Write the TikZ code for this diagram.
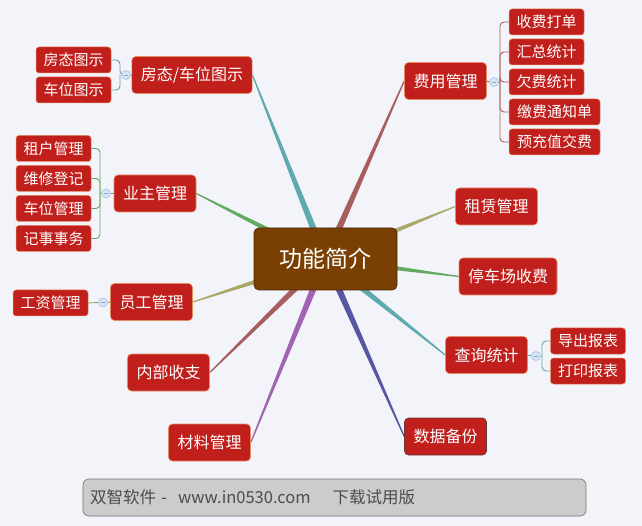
\documentclass[tikz,border=0pt]{standalone}
\usepackage{fontspec}
\setmainfont{Noto Sans CJK SC}
\usetikzlibrary{calc,backgrounds}
\definecolor{bgc}{HTML}{F3F4F9}
\definecolor{topred}{HTML}{C01F1C}
\definecolor{topedge}{HTML}{E58A62}
\definecolor{rootfill}{HTML}{7A3F02}
\definecolor{rootedge}{HTML}{4E2500}
\definecolor{lteal}{HTML}{5EAAAE}
\definecolor{lgreen}{HTML}{64A864}
\definecolor{lolive}{HTML}{ABA96A}
\definecolor{lrose}{HTML}{A85E5E}
\definecolor{lpurple}{HTML}{A264B2}
\definecolor{lindigo}{HTML}{5656A2}
\definecolor{togfill}{HTML}{D6E4F6}
\definecolor{togedge}{HTML}{9DBBE4}
% tapered branch from the root to a topic
\newcommand{\branch}[3]{%
  \fill[#3] ($(#1)!3.6pt!90:(#2)$) -- ($(#2)!0.6pt!-90:(#1)$) -- ($(#2)!0.6pt!90:(#1)$) -- ($(#1)!3.6pt!-90:(#2)$) -- cycle;}

\begin{document}
\begin{tikzpicture}[x=1pt, y=-1pt,
  root/.style={draw=rootedge, fill=rootfill, text=white, rounded corners=5pt, font=\fontsize{23}{26}\selectfont, minimum width=143pt, minimum height=62pt, line width=0.8pt},
  topic/.style={draw=topedge, fill=topred, text=white, rounded corners=4pt, font=\fontsize{16}{19}\selectfont, inner xsep=9pt, minimum height=37pt, line width=0.6pt},
  sub/.style={draw=topedge, fill=topred, text=white, rounded corners=3pt, font=\fontsize{15}{18}\selectfont, inner xsep=4pt, inner ysep=0pt, minimum height=26pt, minimum width=75pt, line width=0.5pt},
  toggle/.style={circle, draw=togedge, fill=togfill, minimum size=9pt, inner sep=0pt, line width=0.5pt,
    path picture={\draw[togedge!70!gray, line width=0.6pt] ([xshift=-2.2pt]path picture bounding box.center) -- ([xshift=2.2pt]path picture bounding box.center);}},
  twig/.style={line width=0.9pt, rounded corners=4pt}]
\useasboundingbox (0,0) rectangle (642,526);

% root
\node[root] (root) at (325.5,259) {功能简介};

% left topics
\node[topic] (fang) at (192,75) {房态/车位图示};
\node[topic] (yezhu) at (155,193.5) {业主管理};
\node[topic] (yuangong) at (151.5,302) {员工管理};
\node[topic] (neibu) at (168.5,372.5) {内部收支};
\node[topic] (cailiao) at (209.5,442.5) {材料管理};
% right topics
\node[topic] (feiyong) at (445.5,81) {费用管理};
\node[topic] (zulin) at (496.5,206.5) {租赁管理};
\node[topic] (tingche) at (508,276.5) {停车场收费};
\node[topic] (chaxun) at (486.5,355) {查询统计};
\node[topic, draw=lrose!60!black] (shuju) at (445.5,436.5) {数据备份};

% subtopics
\node[sub] (fangtai) at (73.5,60) {房态图示};
\node[sub] (chewei) at (73.5,90) {车位图示};
\node[sub] (zuhu) at (53.5,148.5) {租户管理};
\node[sub] (weixiu) at (53.5,178.5) {维修登记};
\node[sub] (cwgl) at (53.5,208.5) {车位管理};
\node[sub] (jishi) at (53.5,238.5) {记事事务};
\node[sub] (gongzi) at (50.5,303) {工资管理};
\node[sub] (shoufei) at (546.5,22) {收费打单};
\node[sub] (huizong) at (546.5,52) {汇总统计};
\node[sub] (qianfei) at (546.5,82) {欠费统计};
\node[sub, minimum width=91pt] (jiaofei) at (554.5,112) {缴费通知单};
\node[sub, minimum width=91pt] (yuchong) at (554.5,142) {预充值交费};
\node[sub] (daochu) at (588,341) {导出报表};
\node[sub] (dayin) at (588,371) {打印报表};

% toggles
\node[toggle] (tfang) at (126,75) {};
\node[toggle] (tyezhu) at (106,193.5) {};
\node[toggle] (tyuangong) at (103,302.5) {};
\node[toggle] (tfeiyong) at (494,82) {};
\node[toggle] (tchaxun) at (536,356) {};

\begin{scope}[on background layer]
  \fill[bgc] (0,0) rectangle (642,526);
  \branch{root.center}{fang.east}{lteal}
  \branch{root.center}{yezhu.east}{lgreen}
  \branch{root.center}{yuangong.east}{lolive}
  \branch{root.center}{neibu.east}{lrose}
  \branch{root.center}{cailiao.east}{lpurple}
  \branch{root.center}{shuju.west}{lindigo}
  \branch{root.center}{chaxun.west}{lteal}
  \branch{root.center}{tingche.west}{lgreen}
  \branch{root.center}{zulin.west}{lolive}
  \branch{root.center}{feiyong.west}{lrose}

  % subtopic twigs
  \draw[twig, lteal!80!gray] (fang.west) -- (tfang.east);
  \draw[twig, lteal!80!gray] (tfang.west) -- (120,75) |- (fangtai.east);
  \draw[twig, lteal!80!gray] (120,75) |- (chewei.east);
  \draw[twig, lgreen] (yezhu.west) -- (tyezhu.east);
  \draw[twig, lgreen] (tyezhu.west) -- (100,193.5);
  \foreach \s in {zuhu,weixiu,cwgl,jishi}
    \draw[twig, lgreen] (100,193.5) |- (\s.east);
  \draw[twig, lolive!70!lgreen] (yuangong.west) -- (tyuangong.east);
  \draw[twig, lolive!70!lgreen] (tyuangong.west) -- (gongzi.east);
  \draw[twig, lrose] (feiyong.east) -- (tfeiyong.west);
  \draw[twig, lrose] (tfeiyong.east) -- (500,82);
  \foreach \s in {shoufei,huizong,qianfei,jiaofei,yuchong}
    \draw[twig, lrose] (500,82) |- (\s.west);
  \draw[twig, lteal] (chaxun.east) -- (tchaxun.west);
  \draw[twig, lteal] (tchaxun.east) -- (542,356);
  \foreach \s in {daochu,dayin}
    \draw[twig, lteal] (542,356) |- (\s.west);
\end{scope}

% footer
\node[draw=gray!90!black, fill=gray!40, rounded corners=6pt, line width=0.6pt, minimum width=503pt, minimum height=37pt, inner xsep=7pt, text width=489pt, align=left, font=\fontsize{16.5}{19}\selectfont, text=black!70] (footer) at (334.5,497.5) {双智软件 -~~www.in0530.com~~~~下载试用版};
\end{tikzpicture}
\end{document}
